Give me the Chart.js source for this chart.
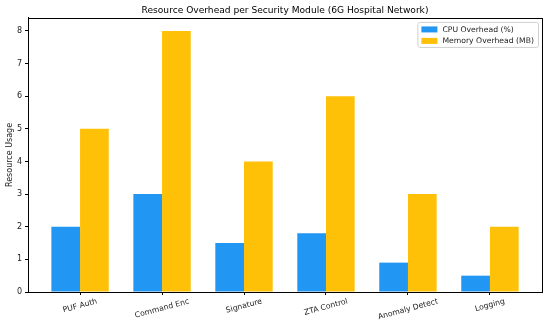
<!DOCTYPE html>
<html>
<head>
<meta charset="utf-8">
<script src="https://cdn.jsdelivr.net/npm/chart.js@4.4.0/dist/chart.umd.min.js"></script>
<style>
  body { margin: 0; background: #fff; }
</style>
</head>
<body>
<canvas id="chart" width="550" height="323"></canvas>
<script>
const modules = ["PUF Auth", "Command Enc", "Signature", "ZTA Control", "Anomaly Detect", "Logging"];
const cpuOverhead = [2, 3, 1.5, 1.8, 0.9, 0.5];
const memoryOverhead = [5, 8, 4, 6, 3, 2];
const yTicks = [0, 1, 2, 3, 4, 5, 6, 7, 8];

const FONT = "'DejaVu Sans', sans-serif";

// frame around the plot + rotated, centred x labels + boxed legend
const extras = {
    id: "extras",
    afterDraw(chart) {
        const ctx = chart.ctx;
        const ca = chart.chartArea;
        const xs = chart.scales.x;

        ctx.save();
        ctx.strokeStyle = "#000";
        ctx.lineWidth = 1;
        ctx.strokeRect(Math.round(ca.left) + 0.5, Math.round(ca.top) + 0.5,
            Math.round(ca.right - ca.left), Math.round(ca.bottom - ca.top));

        // x labels
        ctx.font = "7.7px " + FONT;
        ctx.fillStyle = "#222";
        ctx.textAlign = "center";
        ctx.textBaseline = "middle";
        const rot = 15 * Math.PI / 180;
        modules.forEach(function (m, i) {
            const px = xs.getPixelForValue(i);
            const w = ctx.measureText(m).width;
            const h = 9;
            const cy = ca.bottom + 5 + (w * Math.sin(rot) + h * Math.cos(rot)) / 2;
            ctx.save();
            ctx.translate(px, cy);
            ctx.rotate(-rot);
            ctx.fillText(m, 0, 0);
            ctx.restore();
        });

        // legend
        const ds = chart.data.datasets;
        ctx.font = "7.7px " + FONT;
        let tw = 0;
        ds.forEach(function (d) { tw = Math.max(tw, ctx.measureText(d.label).width); });
        const fw = 4 + 16 + 5 + tw + 4;
        const fh = 25;
        const fx = ca.right - 4 - fw;
        const fy = ca.top + 4;
        ctx.beginPath();
        ctx.roundRect(fx + 0.5, fy + 0.5, fw, fh, 2);
        ctx.fillStyle = "rgba(255,255,255,0.8)";
        ctx.fill();
        ctx.strokeStyle = "#d0d0d0";
        ctx.stroke();
        ctx.textAlign = "left";
        ctx.textBaseline = "middle";
        ds.forEach(function (d, i) {
            const cy = fy + 7.5 + i * 11.5;
            ctx.fillStyle = d.backgroundColor;
            ctx.fillRect(fx + 4, cy - 3, 16, 6);
            ctx.fillStyle = "#222";
            ctx.fillText(d.label, fx + 25, cy + 0.5);
        });
        ctx.restore();
    }
};

new Chart(document.getElementById("chart"), {
    type: "bar",
    data: {
        datasets: [
            {
                label: "CPU Overhead (%)",
                backgroundColor: "#2196F3",
                data: cpuOverhead.map(function (v, i) { return { x: i, y: v }; })
            }, {
                label: "Memory Overhead (MB)",
                backgroundColor: "#FFC107",
                data: memoryOverhead.map(function (v, i) { return { x: i, y: v }; })
            }
        ]
    },
    options: {
        responsive: false,
        animation: false,
        categoryPercentage: 0.7,
        barPercentage: 1.0,
        layout: { padding: { left: 0, right: 8, top: 0, bottom: 0 } },
        plugins: {
            legend: { display: false },
            tooltip: { enabled: false },
            title: {
                display: true,
                fullSize: false,
                text: "Resource Overhead per Security Module (6G Hospital Network)",
                color: "#000",
                font: { family: FONT, size: 9.1, weight: "normal" },
                padding: { top: 5, bottom: 2 }
            }
        },
        scales: {
            x: {
                type: "linear",
                offset: false,
                min: -0.635,
                max: 5.635,
                afterBuildTicks: function (scale) {
                    scale.ticks = modules.map(function (m, i) { return { value: i }; });
                },
                afterFit: function (scale) { scale.height = 31; },
                ticks: { display: false },
                grid: { offset: false, drawOnChartArea: false, drawTicks: true, tickLength: 3, color: "#000" },
                border: { display: true, color: "#000" }
            },
            y: {
                min: 0,
                max: 8.4,
                afterBuildTicks: function (scale) {
                    scale.ticks = yTicks.map(function (v) { return { value: v }; });
                },
                afterFit: function (scale) { scale.width = 28; },
                ticks: { color: "#222", padding: 3, font: { family: FONT, size: 8 } },
                grid: { drawOnChartArea: false, drawTicks: true, tickLength: 3, color: "#000" },
                border: { display: true, color: "#000" },
                title: {
                    display: true,
                    text: "Resource Usage",
                    color: "#222",
                    font: { family: FONT, size: 8 },
                    padding: { top: 5, bottom: 0 }
                }
            }
        }
    },
    plugins: [extras]
});
</script>
</body>
</html>
